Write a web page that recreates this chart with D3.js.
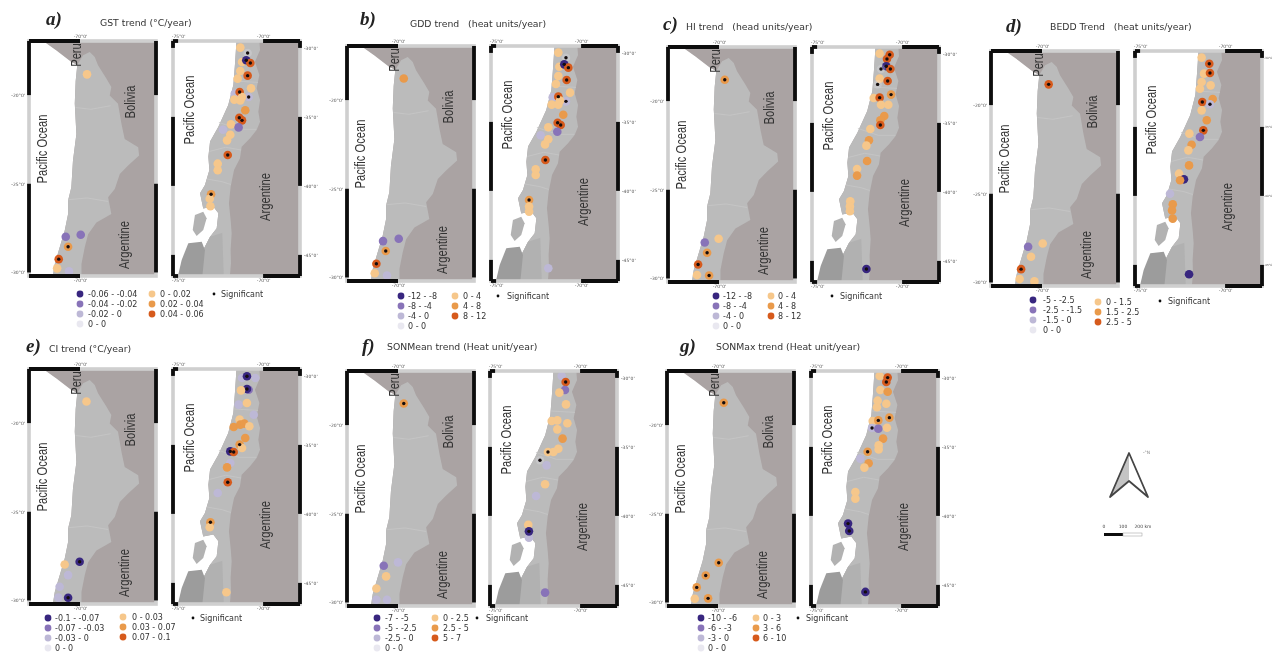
<!DOCTYPE html>
<html>
<head>
<meta charset="utf-8">
<script src="https://cdn.jsdelivr.net/npm/d3@7"></script>
<style>
  html, body { margin: 0; padding: 0; background: #fff; }
  text { font-family: "DejaVu Sans", sans-serif; }
</style>
</head>
<body>
<div id="my_dataviz"></div>
<script>
// outlines, [lon, lat]
var peruCoast = [[-73.2, -16.2], [-72.05, -16.95], [-71.31, -17.48], [-70.48, -18.14]];
var northEast = [[-70.15, -18.3], [-69.83, -17.76], [-69.46, -17.57], [-69.18, -17.85], [-69.0, -18.32], [-68.53, -19.08], [-68.26, -19.55], [-68.35, -20.02], [-67.89, -20.49], [-67.7, -21.62], [-67.52, -22.47], [-66.77, -22.94], [-66.72, -23.41], [-67.33, -23.97], [-67.79, -24.45], [-68.07, -25.29], [-68.44, -25.76], [-68.26, -26.7], [-69.09, -27.18], [-69.55, -27.84], [-69.74, -28.59], [-69.92, -29.53], [-69.92, -30.5]];
var northCoast = [[-71.55, -30.5], [-71.4, -29.53], [-71.13, -28.59], [-70.85, -27.65], [-70.66, -26.7], [-70.66, -25.95], [-70.48, -25.2], [-70.39, -23.7], [-70.2, -22.2], [-70.29, -20.47], [-70.24, -19.2], [-70.15, -18.3]];
var southEast = [[-70.24, -29.2], [-70.18, -30.15], [-70.48, -31.0], [-70.22, -31.96], [-70.38, -32.93], [-70.18, -33.78], [-70.28, -34.62], [-70.18, -35.35], [-70.38, -35.95], [-70.77, -36.55], [-71.26, -37.16], [-71.36, -38.0], [-71.71, -38.85], [-71.91, -40.06], [-72.01, -41.26], [-71.91, -42.47], [-71.85, -43.44], [-71.91, -44.64], [-71.89, -45.61], [-71.99, -47]];
var southCoast = [[-73.61, -47], [-73.52, -44.64], [-73.12, -43.68], [-72.73, -43.07], [-72.63, -41.99], [-72.93, -41.5], [-73.52, -41.63], [-73.71, -40.54], [-73.42, -39.93], [-73.16, -38.85], [-73.22, -37.88], [-73.12, -36.79], [-72.63, -35.71], [-72.05, -34.14], [-71.75, -32.69], [-71.65, -31.12], [-71.55, -29.2]];
var southIsland = [[-74.01, -42.11], [-73.52, -41.87], [-73.32, -42.35], [-73.52, -43.2], [-73.91, -43.63], [-74.14, -43.2]];
var darkIslands = [[-74.4, -44.16], [-73.61, -44.04], [-73.42, -44.64], [-73.61, -47], [-75.1, -47], [-74.79, -45.37]];
var southMidLand = [[-73.12, -43.68], [-72.4, -43.4], [-72.3, -47], [-73.61, -47], [-73.52, -44.64]];
var northRegionLines = [
  [[-70.24, -20.7], [-69.4, -20.8], [-68.3, -20.6]],
  [[-70.66, -25.9], [-69.6, -25.8], [-68.44, -26.0]]
];
var southRegionLines = [
  [[-71.7, -32.4], [-70.3, -32.5]],
  [[-72.6, -35.4], [-71.4, -35.9], [-70.4, -35.9]],
  [[-73.15, -37.5], [-72.2, -37.2], [-71.3, -37.4]],
  [[-73.3, -39.5], [-72.4, -39.7], [-71.9, -39.9]]
];

// trend classes: -3..-1 purple, 0 no change, 1..3 orange. [lon, lat, class, significant]
var gstNorth = [[-69.61, -18.83, 1, 0], [-70.79, -27.99, -2, 0], [-69.96, -27.87, -2, 0], [-70.66, -28.55, 2, 1], [-71.18, -29.25, 3, 1], [-71.27, -29.77, 1, 0], [-70.61, -29.94, -1, 0]];
var gstSouth = [[-71.34, -29.98, 1, 0], [-70.91, -30.37, 0, 1], [-71.24, -31.02, 1, 0], [-70.99, -30.9, -3, 1], [-70.75, -31.09, 3, 1], [-71.34, -31.67, 1, 0], [-70.91, -32.01, 3, 1], [-71.5, -32.23, 1, 0], [-70.71, -32.93, 1, 0], [-71.67, -33.32, -1, 0], [-71.38, -33.2, 3, 1], [-70.85, -33.56, -1, 1], [-71.24, -33.56, 1, 0], [-71.69, -33.75, 1, 0], [-71.34, -33.8, 1, 0], [-71.05, -34.52, 2, 0], [-71.4, -35.06, 3, 1], [-71.24, -35.25, 3, 1], [-71.89, -35.54, 1, 0], [-71.44, -35.76, -2, 0], [-72.36, -35.93, -1, 0], [-71.93, -36.29, 1, 0], [-72.12, -36.7, 1, 0], [-72.08, -37.76, 3, 1], [-72.67, -38.39, 1, 0], [-72.67, -38.87, 1, 0], [-73.06, -40.61, 2, 1], [-73.14, -40.93, 1, 0], [-73.1, -41.48, 1, 0]];

var gddNorth = [[-69.68, -18.78, 2, 0], [-70.83, -27.95, -2, 0], [-69.96, -27.82, -2, 0], [-70.68, -28.51, 2, 1], [-71.2, -29.23, 3, 1], [-71.29, -29.76, 1, 0], [-70.61, -29.89, -1, 0]];
var gddSouth = [[-71.34, -29.98, 1, 0], [-70.89, -30.35, 0, 1], [-71.28, -31.0, 1, 0], [-70.99, -30.83, -3, 1], [-70.75, -31.07, 3, 1], [-71.34, -31.67, 1, 0], [-70.85, -31.96, 3, 1], [-71.48, -32.25, 1, 0], [-70.65, -32.88, 1, 0], [-71.67, -33.22, -1, 0], [-71.34, -33.17, 3, 1], [-70.89, -33.51, -1, 1], [-71.24, -33.46, 1, 0], [-71.73, -33.75, 1, 0], [-71.34, -33.75, 1, 0], [-71.05, -34.48, 2, 0], [-71.38, -35.06, 3, 1], [-71.2, -35.22, 3, 1], [-71.93, -35.39, 1, 0], [-71.4, -35.71, -2, 0], [-72.38, -35.97, -1, 0], [-71.93, -36.26, 1, 0], [-72.12, -36.63, 1, 0], [-72.1, -37.76, 3, 1], [-72.67, -38.44, 1, 0], [-72.67, -38.85, 1, 0], [-73.06, -40.66, 2, 1], [-73.06, -41.14, 1, 0], [-73.06, -41.5, 1, 0], [-71.93, -45.61, -1, 0]];

var hiNorth = [[-69.68, -18.8, 2, 1], [-70.79, -27.97, -2, 0], [-70.02, -27.76, 1, 0], [-70.66, -28.55, 2, 1], [-71.16, -29.21, 3, 1], [-71.22, -29.81, 1, 0], [-70.55, -29.83, 2, 1]];
var hiSouth = [[-71.32, -29.98, 1, 0], [-70.73, -30.06, 3, 1], [-70.89, -30.37, 3, 1], [-70.93, -30.9, -3, 1], [-71.24, -31.09, 0, 1], [-70.69, -31.09, 3, 1], [-71.32, -31.79, 1, 0], [-70.85, -31.96, 3, 1], [-71.44, -32.21, 0, 1], [-71.67, -33.2, 1, 0], [-71.32, -33.17, 3, 1], [-70.65, -32.95, 2, 1], [-71.24, -33.68, 1, 0], [-70.81, -33.68, 1, 0], [-71.05, -34.5, 2, 0], [-71.28, -34.81, 2, 0], [-71.28, -35.15, 3, 1], [-71.87, -35.44, 1, 0], [-71.95, -36.26, 2, 0], [-72.1, -36.65, 1, 0], [-72.06, -37.76, 2, 0], [-72.65, -38.34, 1, 0], [-72.65, -38.82, 2, 0], [-73.05, -40.68, 1, 0], [-73.07, -41.05, 1, 0], [-73.07, -41.4, 1, 0], [-72.1, -45.59, -3, 1]];

var beddNorth = [[-69.63, -18.83, 3, 1], [-70.77, -27.99, -2, 0], [-69.96, -27.8, 1, 0], [-70.61, -28.55, 1, 0], [-71.16, -29.25, 3, 1], [-71.24, -29.81, 1, 0], [-70.42, -29.94, 1, 0]];
var beddSouth = [[-71.38, -29.98, 1, 0], [-70.93, -30.42, 3, 1], [-71.24, -31.14, 1, 0], [-70.89, -31.09, 3, 1], [-71.38, -31.75, 1, 0], [-70.85, -31.99, 1, 0], [-71.48, -32.23, 1, 0], [-70.73, -32.98, 2, 0], [-71.34, -33.2, 3, 1], [-70.89, -33.36, -1, 1], [-71.38, -33.8, 1, 0], [-71.08, -34.52, 2, 0], [-71.28, -35.25, 3, 1], [-71.48, -35.73, -2, 0], [-72.1, -35.49, 1, 0], [-71.97, -36.29, 2, 0], [-72.16, -36.7, 1, 0], [-72.12, -37.79, 2, 0], [-72.71, -38.39, 1, 0], [-72.42, -38.8, -3, 0], [-72.65, -38.87, 2, 0], [-73.24, -39.84, -1, 0], [-73.08, -40.61, 2, 0], [-73.12, -41.05, 2, 0], [-73.08, -41.65, 2, 0], [-72.12, -45.68, -3, 0]];

var ciNorth = [[-69.64, -18.78, 1, 0], [-70.02, -27.82, -3, 1], [-70.85, -27.97, 1, 0], [-70.66, -28.57, -1, 0], [-71.13, -29.23, -1, 0], [-71.2, -29.84, -1, 0], [-70.66, -29.85, -3, 1]];
var ciSouth = [[-71.24, -30.15, -1, 0], [-70.46, -30.15, -1, 0], [-70.95, -30.03, -3, 1], [-70.85, -31.0, -2, 0], [-70.95, -30.95, -3, 1], [-71.3, -31.05, 1, 0], [-71.44, -32.08, -1, 0], [-70.95, -31.96, 1, 0], [-70.55, -32.81, -1, 0], [-71.38, -33.17, 1, 0], [-71.73, -33.7, 2, 0], [-71.34, -33.53, 2, 0], [-71.1, -33.46, 2, 0], [-70.81, -33.65, 1, 0], [-71.05, -34.5, 2, 0], [-71.38, -34.98, 2, 1], [-71.24, -35.22, 1, 0], [-71.93, -35.47, -3, 1], [-71.73, -35.51, 3, 1], [-71.93, -36.31, -1, 0], [-72.12, -36.63, 2, 0], [-72.08, -37.71, 3, 1], [-72.67, -38.49, -1, 0], [-73.1, -40.61, 2, 1], [-73.14, -40.97, 1, 0], [-72.16, -45.68, 1, 0]];

var sonMeanNorth = [[-69.68, -18.78, 2, 1], [-70.79, -27.93, -2, 0], [-70.0, -27.74, -1, 0], [-70.66, -28.53, 1, 0], [-71.2, -29.21, 1, 0], [-70.61, -29.85, -1, 0], [-71.2, -29.85, -1, 0]];
var sonMeanSouth = [[-71.08, -29.86, -1, 0], [-70.85, -30.3, 3, 1], [-70.89, -30.88, -2, 0], [-71.22, -31.07, 1, 0], [-70.83, -31.92, 1, 0], [-71.67, -33.12, 1, 0], [-71.34, -33.08, 1, 0], [-70.75, -33.29, 1, 0], [-71.34, -33.73, 1, 0], [-71.03, -34.4, 2, 0], [-71.28, -35.13, 1, 0], [-71.57, -35.37, 1, 0], [-71.89, -35.37, 1, 1], [-72.36, -35.97, 0, 1], [-71.97, -36.34, -1, 0], [-72.06, -37.71, 1, 0], [-72.59, -38.56, -1, 0], [-73.05, -40.64, 1, 0], [-73.01, -41.58, -1, 0], [-73.01, -41.12, -3, 1], [-72.06, -45.56, -2, 0]];

var sonMaxNorth = [[-69.68, -18.74, 2, 1], [-69.96, -27.76, 2, 1], [-70.68, -28.48, 2, 1], [-71.18, -29.15, 2, 1], [-71.29, -29.79, 1, 0], [-70.55, -29.77, 2, 1]];
var sonMaxSouth = [[-71.26, -29.86, 1, 0], [-70.79, -29.98, 3, 1], [-70.87, -30.3, 3, 1], [-71.22, -30.88, 1, 0], [-70.79, -31.0, 2, 0], [-71.38, -31.65, 1, 0], [-70.87, -31.87, 1, 0], [-71.42, -32.13, 1, 0], [-70.69, -32.88, 2, 1], [-71.67, -33.12, 1, 0], [-71.34, -33.08, 2, 1], [-71.71, -33.63, -1, 1], [-71.34, -33.68, -2, 0], [-70.83, -33.61, 1, 0], [-71.06, -34.4, 2, 0], [-71.32, -34.89, 1, 0], [-71.32, -35.18, 1, 0], [-71.97, -35.35, 2, 1], [-72.4, -35.85, -1, 0], [-71.91, -36.19, 2, 0], [-72.16, -36.5, 1, 0], [-72.69, -38.27, 1, 0], [-72.69, -38.75, 1, 0], [-73.12, -40.56, -3, 1], [-73.05, -41.09, -3, 1], [-72.1, -45.51, -3, 1]];

// legend labels, same order as legendClasses
var legendClasses = [-3, -2, -1, 0, 1, 2, 3];
var gstLegend = ["-0.06 - -0.04", "-0.04 - -0.02", "-0.02 - 0", "0 - 0", "0 - 0.02", "0.02 - 0.04", "0.04 - 0.06"];
var gddLegend = ["-12 - -8", "-8 - -4", "-4 - 0", "0 - 0", "0 - 4", "4 - 8", "8 - 12"];
var hiLegend = ["-12 - -8", "-8 - -4", "-4 - 0", "0 - 0", "0 - 4", "4 - 8", "8 - 12"];
var beddLegend = ["-5 - -2.5", "-2.5 - -1.5", "-1.5 - 0", "0 - 0", "0 - 1.5", "1.5 - 2.5", "2.5 - 5"];
var ciLegend = ["-0.1 - -0.07", "-0.07 - -0.03", "-0.03 - 0", "0 - 0", "0 - 0.03", "0.03 - 0.07", "0.07 - 0.1"];
var sonMeanLegend = ["-7 - -5", "-5 - -2.5", "-2.5 - 0", "0 - 0", "0 - 2.5", "2.5 - 5", "5 - 7"];
var sonMaxLegend = ["-10 - -6", "-6 - -3", "-3 - 0", "0 - 0", "0 - 3", "3 - 6", "6 - 10"];

var northLatTicks = [-20, -25, -30];
var southLatTicks = [-30, -35, -40, -45];
var northLonTicks = [-70];
var southLonTicks = [-75, -70];

var color = d3.scaleOrdinal().domain(legendClasses)
  .range(["#37277f", "#8873b8", "#bdb8d6", "#e9e8f0", "#f6c78b", "#e99a4b", "#d65a1b"]);

// page layout of every panel
var panels = [
  { tag: "a)", title: "GST trend (°C/year)", north: gstNorth, south: gstSouth, legend: gstLegend,
    lx: 29, rx: 173, top: 41, tagX: 46, tagY: 25, titleX: 100, titleY: 26,
    dotA: 80, textA: 88, dotB: 152, textB: 160, rowA: 294, rowB: 294, sigX: 214, sigTextX: 221, sigY: 294 },
  { tag: "b)", title: "GDD trend   (heat units/year)", north: gddNorth, south: gddSouth, legend: gddLegend,
    lx: 347, rx: 491, top: 46, tagX: 360, tagY: 25, titleX: 410, titleY: 27,
    dotA: 401, textA: 408, dotB: 455, textB: 463, rowA: 296, rowB: 296, sigX: 498, sigTextX: 507, sigY: 296 },
  { tag: "c)", title: "HI trend   (head units/year)", north: hiNorth, south: hiSouth, legend: hiLegend,
    lx: 668, rx: 812, top: 47, tagX: 663, tagY: 30, titleX: 686, titleY: 30,
    dotA: 716, textA: 723, dotB: 771, textB: 778, rowA: 296, rowB: 296, sigX: 832, sigTextX: 840, sigY: 296 },
  { tag: "d)", title: "BEDD Trend   (heat units/year)", north: beddNorth, south: beddSouth, legend: beddLegend, latFont: 2.9,
    lx: 991, rx: 1135, top: 51, tagX: 1006, tagY: 32, titleX: 1050, titleY: 30,
    dotA: 1033, textA: 1043, dotB: 1098, textB: 1106, rowA: 300, rowB: 302, sigX: 1160, sigTextX: 1168, sigY: 301 },
  { tag: "e)", title: "CI trend (°C/year)", north: ciNorth, south: ciSouth, legend: ciLegend,
    lx: 29, rx: 173, top: 369, tagX: 26, tagY: 352, titleX: 49, titleY: 352,
    dotA: 48, textA: 55, dotB: 123, textB: 132, rowA: 618, rowB: 617, sigX: 193, sigTextX: 200, sigY: 618 },
  { tag: "f)", title: "SONMean trend (Heat unit/year)", north: sonMeanNorth, south: sonMeanSouth, legend: sonMeanLegend,
    lx: 347, rx: 490, top: 371, tagX: 362, tagY: 352, titleX: 387, titleY: 350,
    dotA: 377, textA: 385, dotB: 435, textB: 443, rowA: 618, rowB: 618, sigX: 477, sigTextX: 486, sigY: 618 },
  { tag: "g)", title: "SONMax trend (Heat unit/year)", north: sonMaxNorth, south: sonMaxSouth, legend: sonMaxLegend,
    lx: 667, rx: 811, top: 371, tagX: 680, tagY: 352, titleX: 716, titleY: 350,
    dotA: 701, textA: 708, dotB: 756, textB: 763, rowA: 618, rowB: 618, sigX: 798, sigTextX: 806, sigY: 618 }
];

var mapW = 127, mapH = 235, rowGap = 10;
var landColor = "#bbbbbb", outsideColor = "#aaa3a3", textColor = "#333";

var svg = d3.select("#my_dataviz").append("svg")
  .attr("width", 1272).attr("height", 653).style("display", "block");

svg.append("defs").append("filter").attr("id", "soft")
  .attr("x", 0).attr("y", 0).attr("width", 1).attr("height", 1)
  .append("feGaussianBlur").attr("stdDeviation", 0.55);

var root = svg.append("g").attr("filter", "url(#soft)");
root.append("rect").attr("width", 1272).attr("height", 653).attr("fill", "#fff");

function closed(x, y, pts) {
  return d3.line().x(function (d) { return x(d[0]); }).y(function (d) { return y(d[1]); })(pts) + "Z";
}

// alternating frame pieces between the graticule ticks
function pieces(range, ticks, scale, firstBlack) {
  var stops = [range[0]].concat(ticks.map(scale)).concat([range[1]]);
  var out = [];
  for (var i = 0; i < stops.length - 1; i++) {
    if ((i % 2 === 0) === firstBlack) out.push([stops[i], stops[i + 1]]);
  }
  return out;
}

function drawMap(g, id, m) {
  var clip = "clip-" + id;
  g.append("clipPath").attr("id", clip).append("rect").attr("width", mapW).attr("height", mapH);
  var body = g.append("g").attr("clip-path", "url(#" + clip + ")");

  body.append("rect").attr("width", mapW).attr("height", mapH).attr("fill", outsideColor);
  body.selectAll(".ocean").data(m.ocean).enter().append("path")
    .attr("d", function (d) { return closed(m.x, m.y, d); }).attr("fill", "#fff");
  body.selectAll(".land").data(m.land).enter().append("path")
    .attr("d", function (d) { return closed(m.x, m.y, d.pts); }).attr("fill", function (d) { return d.fill; });
  body.selectAll(".region").data(m.lines).enter().append("path")
    .attr("d", d3.line().x(function (d) { return m.x(d[0]); }).y(function (d) { return m.y(d[1]); }))
    .attr("fill", "none").attr("stroke", "#c6c6c6").attr("stroke-width", 0.8);

  // stations
  body.selectAll(".station").data(m.points).enter().append("circle")
    .attr("cx", function (d) { return m.x(d[0]); })
    .attr("cy", function (d) { return m.y(d[1]); })
    .attr("r", 4.3)
    .attr("fill", function (d) { return color(d[2]); })
    .attr("fill-opacity", function (d) { return d[2] === 0 ? 0.25 : 1; });
  body.selectAll(".sig").data(m.points.filter(function (d) { return d[3]; })).enter().append("circle")
    .attr("cx", function (d) { return m.x(d[0]); })
    .attr("cy", function (d) { return m.y(d[1]); })
    .attr("r", 1.7).attr("fill", "#120c10");

  // names
  g.selectAll(".place").data(m.places).enter().append("text")
    .attr("transform", function (d) { return "translate(" + d[1] + "," + d[2] + ") rotate(-90) scale(0.8,1)"; })
    .attr("text-anchor", "middle").attr("dominant-baseline", "middle")
    .style("font-family", "'Liberation Sans', sans-serif").style("font-size", "14px")
    .attr("fill", textColor).text(function (d) { return d[0]; });

  // frame
  g.append("rect").attr("width", mapW).attr("height", mapH)
    .attr("fill", "none").attr("stroke", "#cfcfcf").attr("stroke-width", 3.6);
  var side = pieces([0, mapH], m.latTicks, m.y, true);
  var across = pieces([0, mapW], m.lonTicks, m.x, true);
  [0, mapW].forEach(function (px) {
    g.selectAll(null).data(side).enter().append("line")
      .attr("x1", px).attr("x2", px)
      .attr("y1", function (d) { return d[0]; }).attr("y2", function (d) { return d[1]; })
      .attr("stroke", "#0c0c0c").attr("stroke-width", 3.8);
  });
  [0, mapH].forEach(function (py) {
    g.selectAll(null).data(across).enter().append("line")
      .attr("y1", py).attr("y2", py)
      .attr("x1", function (d) { return d[0]; }).attr("x2", function (d) { return d[1]; })
      .attr("stroke", "#0c0c0c").attr("stroke-width", 3.8);
  });

  // graticule labels
  var latFmt = function (d) { return d + "°0'"; };
  var latAxis = g.append("g")
    .attr("transform", m.latOnRight ? "translate(" + mapW + ",0)" : null)
    .call((m.latOnRight ? d3.axisRight : d3.axisLeft)(m.y).tickValues(m.latTicks).tickSize(0)
      .tickPadding(m.latFont ? 2 : 4).tickFormat(latFmt));
  var topAxis = g.append("g").call(d3.axisTop(m.x).tickValues(m.lonTicks).tickSize(0).tickPadding(3).tickFormat(latFmt));
  var bottomAxis = g.append("g").attr("transform", "translate(0," + mapH + ")")
    .call(d3.axisBottom(m.x).tickValues(m.lonTicks).tickSize(0).tickPadding(3).tickFormat(latFmt));
  [latAxis, topAxis, bottomAxis].forEach(function (a) {
    a.select(".domain").remove();
    a.selectAll("text").style("font-size", "4.5px").style("font-family", "'DejaVu Sans'").attr("fill", "#555");
  });
  if (m.latFont) latAxis.selectAll("text").style("font-size", m.latFont + "px");
}

panels.forEach(function (p, i) {
  root.append("text").attr("x", p.tagX).attr("y", p.tagY)
    .style("font-family", "'Liberation Serif', serif").style("font-weight", "bold").style("font-style", "italic")
    .style("font-size", "19px").attr("fill", "#222").text(p.tag);
  root.append("text").attr("x", p.titleX).attr("y", p.titleY)
    .style("font-size", "9.3px").attr("fill", textColor).style("white-space", "pre").text(p.title);

  var northG = root.append("g").attr("transform", "translate(" + p.lx + "," + p.top + ")");
  drawMap(northG, "n" + i, {
    x: d3.scaleLinear().domain([-72.83, -70]).range([0, 51]),
    y: d3.scaleLinear().domain([-16.95, -30.2]).range([0, mapH]),
    latTicks: northLatTicks, lonTicks: northLonTicks, latOnRight: false,
    ocean: [peruCoast.concat(northCoast.slice().reverse()).concat([[-75, -31], [-75, -16]])],
    land: [{ pts: northEast.concat(northCoast), fill: landColor }],
    lines: northRegionLines,
    points: p.north,
    places: [["Peru", 48, 14], ["Bolivia", 102, 61], ["Pacific Ocean", 14, 108], ["Argentine", 96, 204]]
  });

  var southG = root.append("g").attr("transform", "translate(" + p.rx + "," + p.top + ")");
  drawMap(southG, "s" + i, {
    x: d3.scaleLinear().domain([-75.3, -70]).range([0, 90.1]),
    y: d3.scaleLinear().domain([-29.5, -46.53]).range([0, mapH]),
    latTicks: southLatTicks, lonTicks: southLonTicks, latOnRight: true, latFont: p.latFont,
    ocean: [southCoast.slice().reverse().concat([[-73.61, -48], [-77, -48], [-77, -29]])],
    land: [{ pts: southEast.concat(southCoast), fill: landColor },
           { pts: southMidLand, fill: "#b1b1b1" },
           { pts: southIsland, fill: "#b2b2b2" },
           { pts: darkIslands, fill: "#9c9c9c" }],
    lines: southRegionLines,
    points: p.south,
    places: [["Pacific Ocean", 17, 69], ["Argentine", 93, 156]]
  });

  // legend: purple column then orange column
  var leg = legendClasses.map(function (c, k) {
    var neg = k < 4;
    return {
      c: c, label: p.legend[k],
      dot: neg ? p.dotA : p.dotB, tx: neg ? p.textA : p.textB,
      y: neg ? p.rowA + k * rowGap : p.rowB + (k - 4) * rowGap
    };
  });
  root.selectAll(null).data(leg).enter().append("circle")
    .attr("cx", function (d) { return d.dot; }).attr("cy", function (d) { return d.y; })
    .attr("r", 3.4).attr("fill", function (d) { return color(d.c); });
  root.selectAll(null).data(leg).enter().append("text")
    .attr("x", function (d) { return d.tx; }).attr("y", function (d) { return d.y + 3; })
    .style("font-size", "8px").attr("fill", textColor).text(function (d) { return d.label; });
  root.append("circle").attr("cx", p.sigX).attr("cy", p.sigY).attr("r", 1.4).attr("fill", "#111");
  root.append("text").attr("x", p.sigTextX).attr("y", p.sigY + 3)
    .style("font-size", "8px").attr("fill", textColor).text("Significant");
});

// north arrow
var arrow = root.append("g");
arrow.append("path").attr("d", "M1129,453 L1129,480 L1110,497 Z").attr("fill", "#c4c4c4");
arrow.append("path").attr("d", "M1129,453 L1148,497 L1129,481 L1110,497 Z")
  .attr("fill", "none").attr("stroke", "#444").attr("stroke-width", 1.8).attr("stroke-linejoin", "round");
arrow.append("text").attr("x", 1143).attr("y", 454).style("font-size", "4.5px").attr("fill", "#888").text("-°N");

// scale bar
root.append("rect").attr("x", 1104).attr("y", 533).attr("width", 19).attr("height", 3).attr("fill", "#111");
root.append("rect").attr("x", 1123).attr("y", 533).attr("width", 19).attr("height", 3)
  .attr("fill", "#fff").attr("stroke", "#999").attr("stroke-width", 0.5);
root.selectAll(null).data([["0", 1104], ["100", 1123], ["200 km", 1143]]).enter().append("text")
  .attr("x", function (d) { return d[1]; }).attr("y", 528).attr("text-anchor", "middle")
  .style("font-size", "4.5px").attr("fill", "#444").text(function (d) { return d[0]; });
</script>
</body>
</html>
